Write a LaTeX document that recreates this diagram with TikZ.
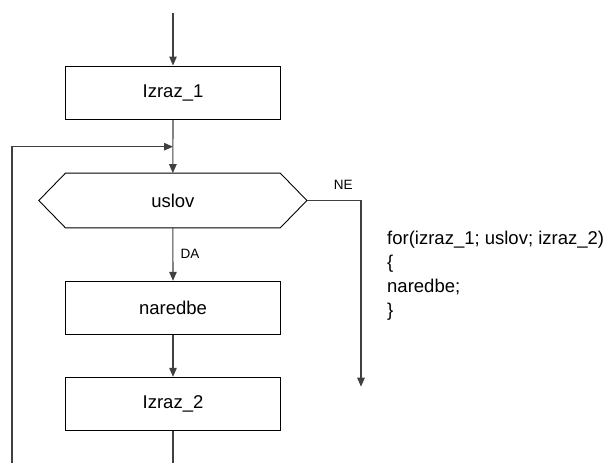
\documentclass[tikz,border=0pt]{standalone}
\usepackage{fontspec}
\setmainfont{Liberation Sans}
\usetikzlibrary{arrows.meta}
\begin{document}
\begin{tikzpicture}[x=1pt,y=-1pt,
  box/.style={draw=black,line width=0.9pt,minimum width=215pt,minimum height=53.5pt,
    inner sep=0pt,font=\fontsize{18.5}{22}\selectfont},
  cond/.style={minimum width=214.3pt,minimum height=54.4pt,inner sep=0pt,
    font=\fontsize{18.5}{22}\selectfont},
  conn/.style={draw=black!75,line width=1.1pt},
  arr/.style={conn,-{Triangle[width=7.5pt,length=9pt]}},
  lbl/.style={font=\fontsize{13.5}{16}\selectfont,inner sep=0pt}]
\useasboundingbox (0,0) rectangle (609,463);

% blocks of the loop
\node[box] (i1) at (173,92.7) {Izraz\_1};
\node[cond] (c) at (172.85,200.5) {uslov};
\node[box] (nar) at (173,308) {naredbe};
\node[box] (i2) at (173,404) {Izraz\_2};

% hexagonal outline of the condition
\coordinate (cl) at ([xshift=-26.7pt]c.west);
\coordinate (cr) at ([xshift=26.7pt]c.east);
\draw[line width=0.9pt] (c.north west) -- (c.north east) -- (cr) -- (c.south east)
  -- (c.south west) -- (cl) -- cycle;

% connector points
\coordinate (top) at (173,13);
\coordinate (join) at (173,146.7);
\coordinate (back) at (12,146.7);
\coordinate (backlow) at (12,463);
\coordinate (down) at (173,463);
\coordinate (necorner) at (361,200.5);
\coordinate (neend) at (361,386.7);

\draw[arr] (top) -- (i1.north);
\draw[arr] (i1.south) -- (c.north);
\draw[arr] (backlow) -- (back) -- (join);
\draw[arr] (c.south) -- (nar.north);
\draw[arr] (nar.south) -- (i2.north);
\draw[conn] (i2.south) -- (down);
\draw[arr] (cr) -- (necorner) -- (neend);

% branch labels
\node[lbl,anchor=west] (da) at (180.5,254) {DA};
\node[lbl] (ne) at (343.3,185) {NE};

% equivalent C code (base anchor sits on the last line)
\node[anchor=base west,align=left,inner sep=0pt,
  font=\fontsize{18.5}{24}\selectfont] (code) at (387,316)
  {for(izraz\_1; uslov; izraz\_2)\\\{\\naredbe;\\\}};
\end{tikzpicture}
\end{document}
